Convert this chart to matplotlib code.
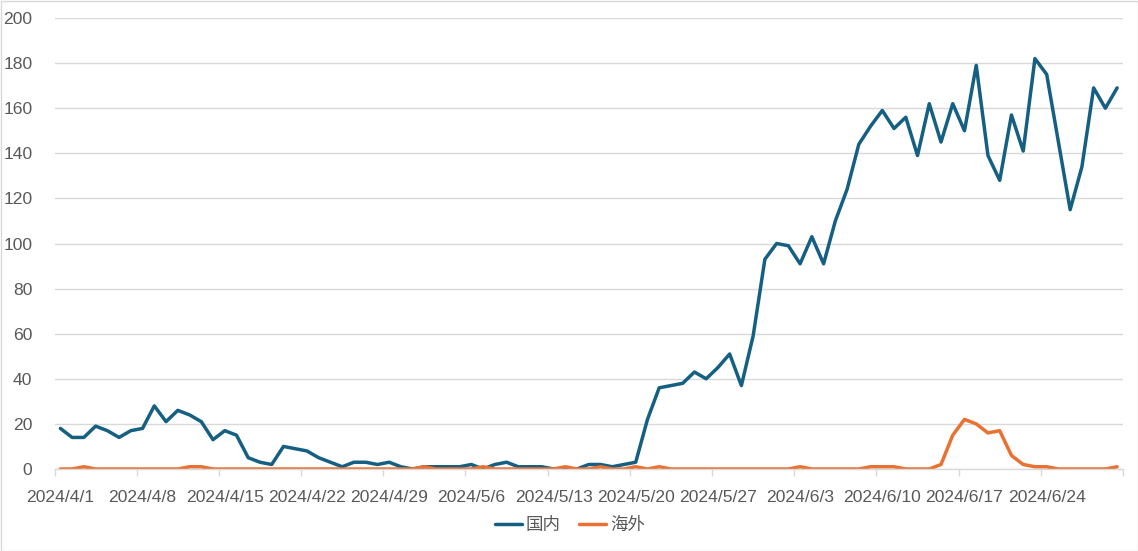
import matplotlib
matplotlib.use("Agg")
import matplotlib.pyplot as plt
import pandas as pd
from matplotlib.patches import Rectangle

plt.rcParams['font.family'] = ['Liberation Sans', 'Noto Sans CJK SC', 'DejaVu Sans']

dates = pd.date_range("2024-04-01", "2024-06-30", freq="D")
categories = [f"{d.year}/{d.month}/{d.day}" for d in dates]

domestic = [18, 14, 14, 19, 17, 14, 17,
            18, 28, 21, 26, 24, 21, 13,
            17, 15, 5, 3, 2, 10, 9,
            8, 5, 3, 1, 3, 3, 2,
            3, 1, 0, 1, 1, 1, 1,
            2, 0, 2, 3, 1, 1, 1,
            0, 0, 0, 2, 2, 1, 2,
            3, 22, 36, 37, 38, 43, 40,
            45, 51, 37, 59, 93, 100, 99,
            91, 103, 91, 110, 124, 144, 152,
            159, 151, 156, 139, 162, 145, 162,
            150, 179, 139, 128, 157, 141, 182,
            175, 145, 115, 134, 169, 160, 169]

overseas = [0, 0, 1, 0, 0, 0, 0,
            0, 0, 0, 0, 1, 1, 0,
            0, 0, 0, 0, 0, 0, 0,
            0, 0, 0, 0, 0, 0, 0,
            0, 0, 0, 1, 0, 0, 0,
            0, 1, 0, 0, 0, 0, 0,
            0, 1, 0, 0, 1, 0, 0,
            1, 0, 1, 0, 0, 0, 0,
            0, 0, 0, 0, 0, 0, 0,
            1, 0, 0, 0, 0, 0, 1,
            1, 1, 0, 0, 0, 2, 15,
            22, 20, 16, 17, 6, 2, 1,
            1, 0, 0, 0, 0, 0, 1]

series_names = ["国内", "海外"]
colors = ["#156082", "#E97132"]

W, H = 1138, 551
FS = 12.6
fig = plt.figure(figsize=(W / 100, H / 100), dpi=100)
ax = fig.add_axes([54.5 / W, 1 - 469 / H, (1123 - 54.5) / W, (469 - 18) / H])

x = list(range(len(categories)))
ax.plot(x, domestic, color=colors[0], lw=2.5, solid_joinstyle='round',
        solid_capstyle='round', label=series_names[0])
ax.plot(x, overseas, color=colors[1], lw=2.5, solid_joinstyle='round',
        solid_capstyle='round', label=series_names[1])

ax.set_xlim(-0.5, len(categories) - 0.5)
ax.set_ylim(0, 200)
ax.set_yticks(range(0, 201, 20))
ax.grid(axis='y', color='#d9d9d9', lw=1)
ax.set_axisbelow(True)

# boundary tick marks every 7 categories, labels at category centres
ax.set_xticks([i - 0.5 for i in range(0, len(categories) + 1, 7)])
ax.set_xticklabels([])
ax.set_xticks(list(range(0, len(categories), 7)), minor=True)
ax.set_xticklabels([categories[i] for i in range(0, len(categories), 7)], minor=True)
ax.tick_params(axis='x', which='major', length=5, color='#d9d9d9', width=1)
ax.tick_params(axis='x', which='minor', length=0, pad=15, labelsize=FS, labelcolor='#595959')
ax.tick_params(axis='y', length=0, pad=16, labelsize=FS, labelcolor='#595959')

for s in ['top', 'right', 'left']:
    ax.spines[s].set_visible(False)
ax.spines['bottom'].set_color('#d9d9d9')
ax.spines['bottom'].set_linewidth(1)

leg = fig.legend(loc='center', bbox_to_anchor=(570 / W, 1 - 525 / H), ncol=2,
                 frameon=False, fontsize=FS, handlelength=1.55, handletextpad=0.22,
                 columnspacing=1.05)
for t in leg.get_texts():
    t.set_color('#595959')

fig.patches.append(Rectangle((0.5 / W, 0.5 / H), 1 - 1 / W, 1 - 1 / H,
                             transform=fig.transFigure, fill=False,
                             edgecolor='#d9d9d9', lw=1))

fig.savefig("out.png", dpi=100)
